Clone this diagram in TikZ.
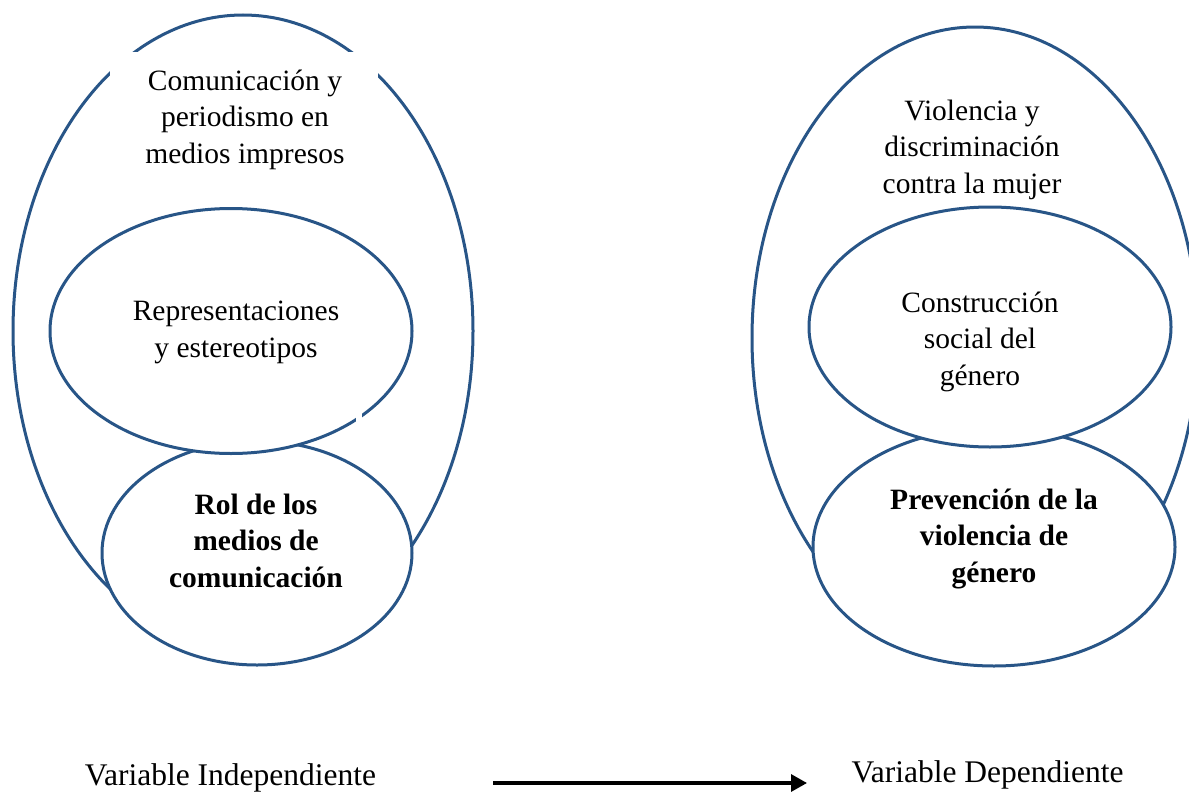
\documentclass[tikz,border=0pt]{standalone}
\usepackage{fontspec}
\setmainfont{Liberation Serif}
\usetikzlibrary{shapes.geometric,arrows.meta}
\definecolor{ringblue}{RGB}{40,85,135}
\tikzset{
  ring/.style={ellipse, draw=ringblue, line width=3pt, inner sep=0pt},
  ringfill/.style={ring, fill=white},
  lbl/.style={align=center, anchor=base, inner sep=0pt,
    font=\fontsize{29.5}{36.3}\selectfont},
  lblb/.style={lbl, font=\fontsize{29.5}{36.3}\selectfont\bfseries},
  varlbl/.style={anchor=base, inner sep=0pt, font=\fontsize{31.5}{36}\selectfont},
  flow/.style={line width=3.2pt, -{Triangle[length=16pt,width=17pt]}}
}
\begin{document}
\begin{tikzpicture}[x=1pt,y=-1pt]
\useasboundingbox (0,0) rectangle (1189,795);
\clip (0,0) rectangle (1189,795);
% ---- left group ----
\node[ring, minimum width=460, minimum height=632] (bigL) at (243,331) {};
\fill[white] (110,52) rectangle (378,175);
\node[ringfill, minimum width=310, minimum height=224] (rol) at (257,553) {};
\node[ringfill, minimum width=362, minimum height=245] (repr) at (231,331) {};
\fill[white] (356,412) rectangle (362,424);
\node[lbl] (tcom) at (245,163) {Comunicación y\\periodismo en\\medios impresos};
\node[lbl] (trep) at (236,357) {Representaciones\\y estereotipos};
\node[lblb] (trol) at (256,587) {Rol de los\\medios de\\comunicación};
% ---- right group ----
\node[ring, minimum width=446, minimum height=622] (bigR) at (975,338) {};
\node[ringfill, minimum width=362, minimum height=238] (prev) at (994,547) {};
\node[ringfill, minimum width=362, minimum height=240] (cons) at (990,327) {};
\node[lbl] (tvio) at (972,193) {Violencia y\\discriminación\\contra la mujer};
\node[lbl] (tcons) at (980,385) {Construcción\\social del\\género};
\node[lblb] (tprev) at (994,582) {Prevención de la\\violencia de\\género};
% ---- bottom ----
\node[varlbl] (vi) at (230.5,785) {Variable Independiente};
\node[varlbl] (vd) at (987.5,782) {Variable Dependiente};
\coordinate (a1) at (493,783);
\coordinate (a2) at (807,783);
\draw[flow] (a1) -- (a2);
\end{tikzpicture}
\end{document}
